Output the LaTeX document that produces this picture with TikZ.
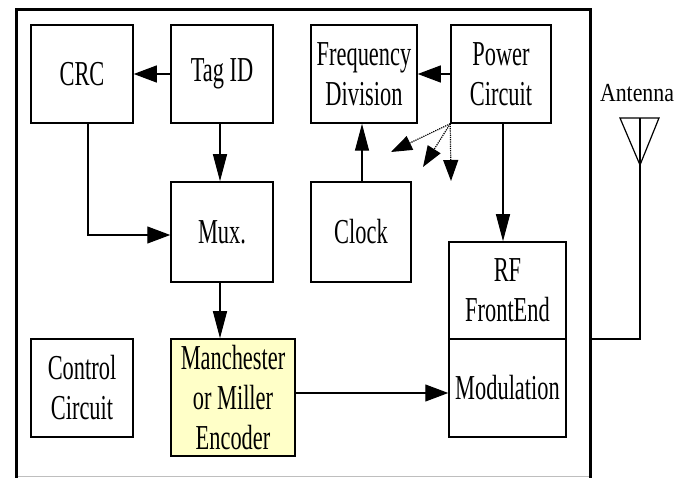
\documentclass[tikz,border=0pt]{standalone}
\usepackage{fontspec}
\setmainfont{Liberation Serif}[FakeStretch=0.64]
\newfontfamily\antfont{Liberation Serif}[FakeStretch=0.84]
\usetikzlibrary{arrows.meta,calc}
\definecolor{encfill}{RGB}{255,255,200}
\definecolor{framegray}{RGB}{190,190,190}
\begin{document}
\begin{tikzpicture}[x=1pt,y=-1pt,
  blk/.style={draw=black,line width=1.5pt,inner sep=0pt,align=center,
    font=\fontsize{35}{40}\selectfont},
  harr/.style={line width=1.2pt,-{Triangle[length=23pt,width=17pt]}},
  varr/.style={line width=1.2pt,-{Triangle[length=27pt,width=14pt]}},
  dotarr/.style={line width=1.2pt,densely dotted,-{Triangle[length=21pt,width=15pt]}}]
\useasboundingbox (0,0) rectangle (681,478);
% frame
\draw[framegray,line width=1pt] (16,477) -- (590,477);
\draw[line width=3pt] (16,478) -- (16,10) -- (590,10) -- (590,478);
% blocks
\node[blk,minimum width=102,minimum height=98] (crc) at (82,74) {CRC};
\node[blk,minimum width=102,minimum height=98] (tag) at (222,74) {Tag ID};
\node[blk,minimum width=106,minimum height=98] (freq) at (364,74) {Frequency\\Division};
\node[blk,minimum width=100,minimum height=98] (power) at (501,74) {Power\\Circuit};
\node[blk,minimum width=102,minimum height=100] (mux) at (222,232) {Mux.};
\node[blk,minimum width=100,minimum height=100] (clock) at (361,232) {Clock};
\node[blk,minimum width=117,minimum height=97] (rf) at (507.5,290.5) {RF\\FrontEnd};
\node[blk,minimum width=117,minimum height=98] (mod) at (507.5,388) {Modulation};
\node[blk,minimum width=102,minimum height=98] (ctrl) at (82,388) {Control\\Circuit};
\node[blk,fill=encfill,minimum width=124,minimum height=117] (enc) at (233,397.5) {Manchester\\or Miller\\Encoder};
% connectors
\draw[harr] (tag.west) -- (crc.east);
\draw[harr] (power.west) -- (freq.east);
\draw[varr] ([xshift=-2]tag.south) -- ([xshift=-2]mux.north);
\draw[harr] ([xshift=6]crc.south) |- ([yshift=-3]mux.west);
\draw[varr] ([xshift=-2]mux.south) -- ([xshift=-2]mux.south |- enc.north);
\draw[varr] ([xshift=1]clock.north) -- ([xshift=1]clock.north |- freq.south);
\draw[varr] ([xshift=2]power.south) -- ([xshift=2]power.south |- rf.north);
\draw[harr] ([yshift=4.5]enc.east) -- ([yshift=4.5]enc.east -| mod.west);
% dotted arrows
\coordinate (d1) at (391,152);
\coordinate (d2) at (423,167);
\coordinate (d3) at (451,181);
\draw[dotarr] (power.south west) -- (d1);
\draw[dotarr] (power.south west) -- (d2);
\draw[dotarr] (power.south west) -- (d3);
% antenna
\node[font=\antfont\fontsize{26}{28}\selectfont] (antlbl) at (637,93) {Antenna};
\coordinate (atop) at (640,118);
\coordinate (aapex) at (640,165);
\coordinate (afoot) at (640,339);
\coordinate (aframe) at (590,339);
\draw[line width=1.2pt] (620,118) -- (659,118) -- (aapex) -- cycle;
\draw[line width=1.2pt] (atop) -- (afoot) -- (aframe);
\end{tikzpicture}
\end{document}
